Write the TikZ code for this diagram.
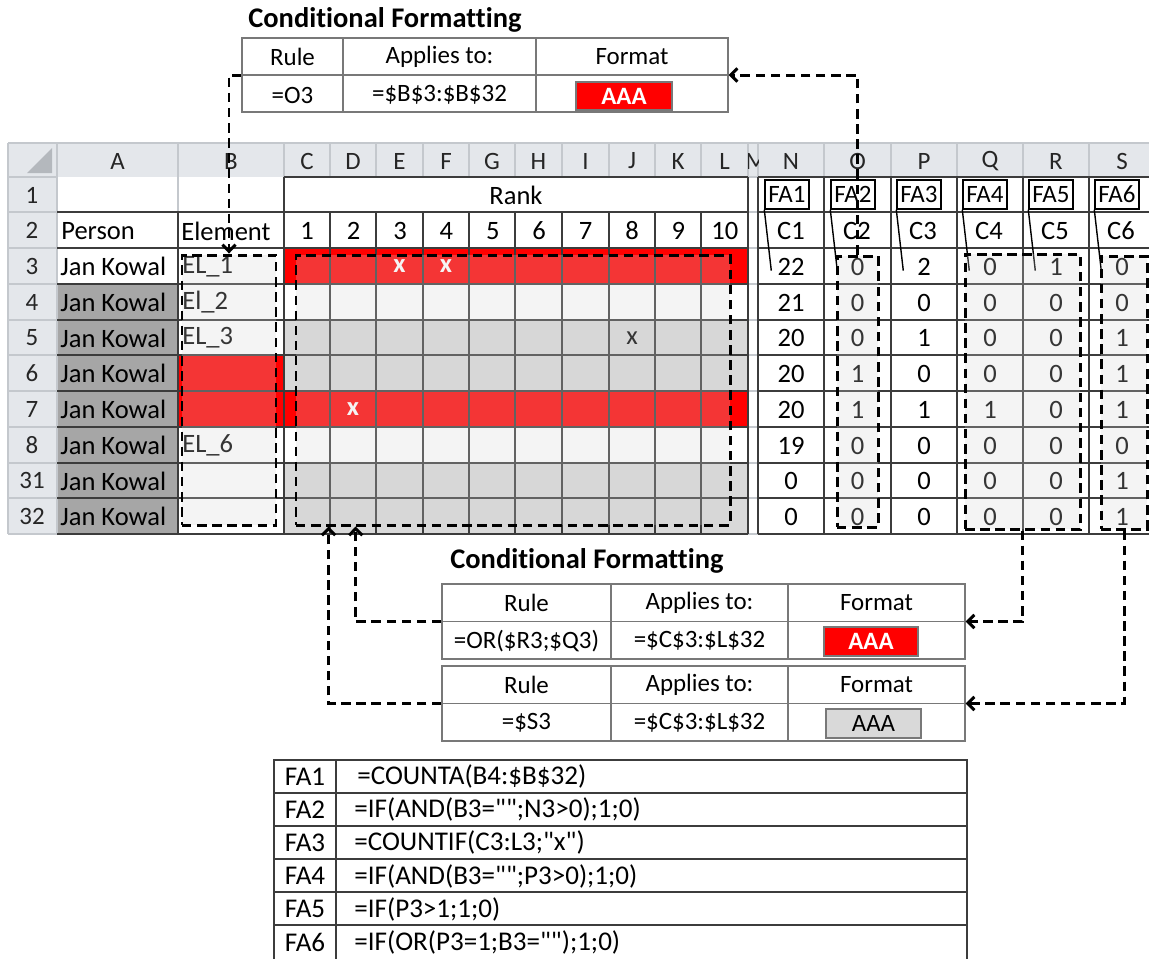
\documentclass[tikz,border=0pt]{standalone}
\usepackage{fontspec}
\setmainfont{Carlito}[Ligatures={TeXOff,NoCommon}]
\usetikzlibrary{positioning, calc, arrows.meta}

\definecolor{hdrfill}{RGB}{228,231,235}
\definecolor{hdrline}{RGB}{196,200,205}
\definecolor{cornertri}{RGB}{180,184,189}
\definecolor{flagred}{RGB}{255,0,0}
\definecolor{shadecell}{RGB}{217,217,217}
\definecolor{personcell}{RGB}{166,166,166}
\definecolor{sheetline}{RGB}{60,60,60}
\definecolor{tableline}{RGB}{120,120,120}
\definecolor{rangefill}{RGB}{212,212,212}

\newcommand{\pxu}{0.02cm}

\tikzset{
  sheettext/.style={font=\fontsize{15.1}{16}\selectfont, inner sep=0pt},
  markx/.style={sheettext, text=white, font=\bfseries\fontsize{15.1}{16}\selectfont},
  headtext/.style={font=\fontsize{14.2}{16}\selectfont, text=black!85, inner sep=0pt},
  tabletext/.style={font=\fontsize{14.2}{15}\selectfont, inner sep=0pt},
  formtext/.style={font=\fontsize{15.4}{16}\selectfont, inner sep=0pt},
  cftitle/.style={font=\bfseries\fontsize{16.2}{18}\selectfont, inner sep=0pt, anchor=west},
  gridthin/.style={sheetline, line width=0.6pt},
  gridlight/.style={hdrline, line width=0.6pt},
  cfbox/.style={draw=tableline, line width=0.7pt, inner sep=0pt},
  cfline/.style={tableline, line width=0.7pt},
  aaabox/.style={draw=tableline, line width=0.6pt, fill=flagred, text=white, font=\bfseries\fontsize{14.2}{15}\selectfont, inner sep=0pt},
  falabel/.style={draw, line width=0.8pt, fill=white, minimum width=44*\pxu, minimum height=29*\pxu, inner sep=0pt, font=\fontsize{14.2}{16}\selectfont},
  rangebox/.style={draw, line width=1.7pt, dash pattern=on 5.4pt off 3.2pt, fill=rangefill, fill opacity=0.25, inner sep=0pt},
  link/.style={line width=1.7pt, dash pattern=on 5.4pt off 3.2pt, -{Straight Barb[length=3.8pt, width=7.5pt]}}
}

\begin{document}
\begin{tikzpicture}[x=\pxu, y=-\pxu]
  \useasboundingbox[fill=white] (0,0) rectangle (1149,958);

  % sheet headers
  \fill[hdrfill] (8,143) rectangle (1149,177);
  \fill[hdrfill] (8,177) rectangle (57,534);
  \fill[cornertri] (27,173) -- (52,173) -- (52,148) -- cycle;
  \foreach \x in {57,178,284,330,376,423,469,515,562,609,655,701,748,758,824,891,957,1023,1089}
    \draw[gridlight] (\x,143) -- (\x,177);
  \foreach \y in {143,177,212,248,284,320,355,391,427,463,498,534}
    \draw[gridlight] (8,\y) -- (57,\y);
  \draw[gridlight] (8,143) -- (1149,143);
  \draw[gridlight] (8,143) -- (8,534);

  \foreach \c/\x in {A/117.5, B/231, C/307, D/353, E/399.5, F/446, G/492, H/538.5, I/585.5, J/632, K/678, L/724.5, N/791, O/857.5, P/924, Q/990, R/1056, S/1122}
    \node[headtext] (col\c) at (\x,161) {\c};
  \begin{scope}
    \clip (748,143) rectangle (758,177);
    \node[headtext] (colM) at (756,161) {M};
  \end{scope}
  \foreach \rw/\yy in {1/195, 2/230.5, 3/266, 4/302, 5/337.5, 6/373, 7/409, 8/445, 31/480.5, 32/516}
    \node[headtext] (row\rw) at (32,\yy) {\rw};

  % cell fills
  \fill[personcell] (57,284) rectangle (178,534);
  \fill[flagred] (178,355) rectangle (284,427);
  \fill[flagred] (284,248) rectangle (748,284);
  \fill[flagred] (284,391) rectangle (748,427);
  \fill[shadecell] (284,320) rectangle (748,391);
  \fill[shadecell] (284,463) rectangle (748,534);

  % grid
  \draw[gridlight] (57,177) -- (57,534);
  \draw[gridlight] (178,177) -- (178,212);
  \foreach \y in {177,212,248,284,320,355,391,427,463,498,534}
    \draw[gridlight] (748,\y) -- (758,\y);
  \foreach \y in {212,248,284,320,355,391,427,463,498,534}
    \draw[gridthin] (57,\y) -- (748,\y);
  \draw[gridthin] (284,177) -- (748,177);
  \foreach \x in {178,330,376,423,469,515,562,609,655,701}
    \draw[gridthin] (\x,212) -- (\x,534);
  \draw[gridthin] (284,177) -- (284,534);
  \draw[gridthin] (748,177) -- (748,534);
  \foreach \y in {177,212,248,284,320,355,391,427,463,498,534}
    \draw[gridthin] (758,\y) -- (1149,\y);
  \foreach \x in {758,824,891,957,1023,1089}
    \draw[gridthin] (\x,177) -- (\x,534);

  % cell texts
  \node[sheettext] (rank) at (516,195) {Rank};
  \node[sheettext, anchor=west] (person) at (61,231) {Person};
  \node[sheettext, anchor=west] (element) at (181,231) {Element};
  \foreach \k in {1,...,10}
    \node[sheettext] (rank\k) at ({284+46.4*(\k-0.5)},231) {\k};
  \foreach \k in {1,...,6}
    \node[sheettext] (calc\k) at ({758+66*(\k-0.5)},231) {C\k};
  \foreach \rw/\yy in {3/266.5, 4/302.5, 5/338, 6/373.5, 7/409.5, 8/445.5, 31/481, 32/516.5}
    \node[sheettext, anchor=west] (person\rw) at (60,\yy) {Jan Kowal};
  \node[sheettext, anchor=west] (elem3) at (182,266.5) {EL\_1};
  \node[sheettext, anchor=west] (elem4) at (182,302.5) {El\_2};
  \node[sheettext, anchor=west] (elem5) at (182,338) {EL\_3};
  \node[sheettext, anchor=west] (elem8) at (182,445.5) {EL\_6};
  \node[markx] (markE3) at (399.5,266.5) {x};
  \node[markx] (markF3) at (446,266.5) {x};
  \node[markx] (markD7) at (353,409.5) {x};
  \node[sheettext] (markJ5) at (632,338) {x};

  \foreach \rw/\yy/\vn/\vo/\vp/\vq/\vr/\vs in {3/266.5/22/0/2/0/1/0, 4/302.5/21/0/0/0/0/0, 5/338/20/0/1/0/0/1, 6/373.5/20/1/0/0/0/1, 7/409.5/20/1/1/1/0/1, 8/445.5/19/0/0/0/0/0, 31/481/0/0/0/0/0/1, 32/516.5/0/0/0/0/0/1}
  {
    \node[sheettext] (valN\rw) at (791,\yy) {\vn};
    \node[sheettext] (valO\rw) at (857.5,\yy) {\vo};
    \node[sheettext] (valP\rw) at (924,\yy) {\vp};
    \node[sheettext] (valQ\rw) at (990,\yy) {\vq};
    \node[sheettext] (valR\rw) at (1056,\yy) {\vr};
    \node[sheettext] (valS\rw) at (1122,\yy) {\vs};
  }

  % formula labels over the helper columns
  \foreach \k in {1,...,6}
  {
    \node[falabel] (fa\k) at ({758+66*(\k-1)+29},194.5) {FA\k};
    \draw[line width=0.8pt] (fa\k.south west) -- ++(7,61);
  }

  % ranges
  \node[rangebox, minimum width=94*\pxu, minimum height=270*\pxu] (elemRange) at (229,390) {};
  \node[rangebox, minimum width=434*\pxu, minimum height=270*\pxu] (rankRange) at (513,390) {};
  \node[rangebox, minimum width=41*\pxu, minimum height=271*\pxu] (faTwoRange) at (857.5,391.5) {};
  \node[rangebox, minimum width=115*\pxu, minimum height=275*\pxu] (faFourRange) at (1022.5,391.5) {};
  \node[rangebox, minimum width=46*\pxu, minimum height=273*\pxu] (faSixRange) at (1124,392.5) {};

  % rule for column B
  \node[cftitle] (titleTop) at (248,20) {Conditional Formatting};
  \node[cfbox, minimum width=486*\pxu, minimum height=74*\pxu] (cfTop) at (485,75) {};
  \draw[cfline] (cfTop.west) -- (cfTop.east);
  \draw[cfline] (343,38) -- (343,112) (536,38) -- (536,112);
  \node[tabletext] (topRuleHead) at (292.5,57) {Rule};
  \node[tabletext] (topAppliesHead) at (439.5,57) {Applies to:};
  \node[tabletext] (topFormatHead) at (632,57) {Format};
  \node[tabletext] (topRule) at (292.5,95) {=O3};
  \node[tabletext] (topApplies) at (439.5,95) {=\$B\$3:\$B\$32};
  \node[aaabox, minimum width=96*\pxu, minimum height=28*\pxu] (topFormat) at (624,96) {AAA};

  % rules for the rank block
  \node[cftitle] (titleLow) at (450,561) {Conditional Formatting};
  \node[cfbox, minimum width=523*\pxu, minimum height=75*\pxu] (cfMid) at (703.5,621.5) {};
  \draw[cfline] (cfMid.west) -- (cfMid.east);
  \draw[cfline] (611,584) -- (611,659) (788,584) -- (788,659);
  \node[tabletext] (midRuleHead) at (526.5,603) {Rule};
  \node[tabletext] (midAppliesHead) at (699.5,603) {Applies to:};
  \node[tabletext] (midFormatHead) at (876.5,603) {Format};
  \node[tabletext] (midRule) at (526.5,641) {=OR(\$R3;\$Q3)};
  \node[tabletext] (midApplies) at (699.5,641) {=\$C\$3:\$L\$32};
  \node[aaabox, minimum width=94*\pxu, minimum height=29*\pxu] (midFormat) at (871,641.5) {AAA};

  \node[cfbox, minimum width=523*\pxu, minimum height=75*\pxu] (cfLow) at (703.5,703.5) {};
  \draw[cfline] (cfLow.west) -- (cfLow.east);
  \draw[cfline] (611,666) -- (611,741) (788,666) -- (788,741);
  \node[tabletext] (lowRuleHead) at (526.5,685) {Rule};
  \node[tabletext] (lowAppliesHead) at (699.5,685) {Applies to:};
  \node[tabletext] (lowFormatHead) at (876.5,685) {Format};
  \node[tabletext] (lowRule) at (526.5,723) {=\$S3};
  \node[tabletext] (lowApplies) at (699.5,723) {=\$C\$3:\$L\$32};
  \node[aaabox, fill=shadecell, text=black, font=\fontsize{14.2}{15}\selectfont, minimum width=95*\pxu, minimum height=29*\pxu] (lowFormat) at (873.5,723.5) {AAA};

  % helper formulas
  \node[draw=sheetline, line width=0.7pt, minimum width=693*\pxu, minimum height=200*\pxu] (faTable) at (620.5,860) {};
  \foreach \y in {793,826,859,892,925}
    \draw[gridthin] (274,\y) -- (967,\y);
  \draw[gridthin] (336,760) -- (336,960);
  \foreach \k/\yy in {1/776.5, 2/809.5, 3/842.5, 4/876, 5/909, 6/942}
    \node[formtext] (faName\k) at (305,\yy) {FA\k};
  \node[formtext, anchor=west] (faForm1) at (357,776.5) {=COUNTA(B4:\$B\$32)};
  \node[formtext, anchor=west] (faForm2) at (354,809.5) {=IF(AND(B3="";N3>0);1;0)};
  \node[formtext, anchor=west] (faForm3) at (354,842.5) {=COUNTIF(C3:L3;"x")};
  \node[formtext, anchor=west] (faForm4) at (354,876) {=IF(AND(B3="";P3>0);1;0)};
  \node[formtext, anchor=west] (faForm5) at (354,909) {=IF(P3>1;1;0)};
  \node[formtext, anchor=west] (faForm6) at (354,942) {=IF(OR(P3=1;B3="");1;0)};

  % links between rules and ranges
  \draw[link] (cfTop.west) -| (elemRange.north);
  \draw[link] (faTwoRange.north) |- (cfTop.east);
  \draw[link] (cfMid.west) -| ($(rankRange.south west)!0.14!(rankRange.south east)$);
  \draw[link] (cfLow.west) -| ($(rankRange.south west)!0.078!(rankRange.south east)$);
  \draw[link] (faFourRange.south) |- (cfMid.east);
  \draw[link] (faSixRange.south) |- (cfLow.east);
\end{tikzpicture}
\end{document}
